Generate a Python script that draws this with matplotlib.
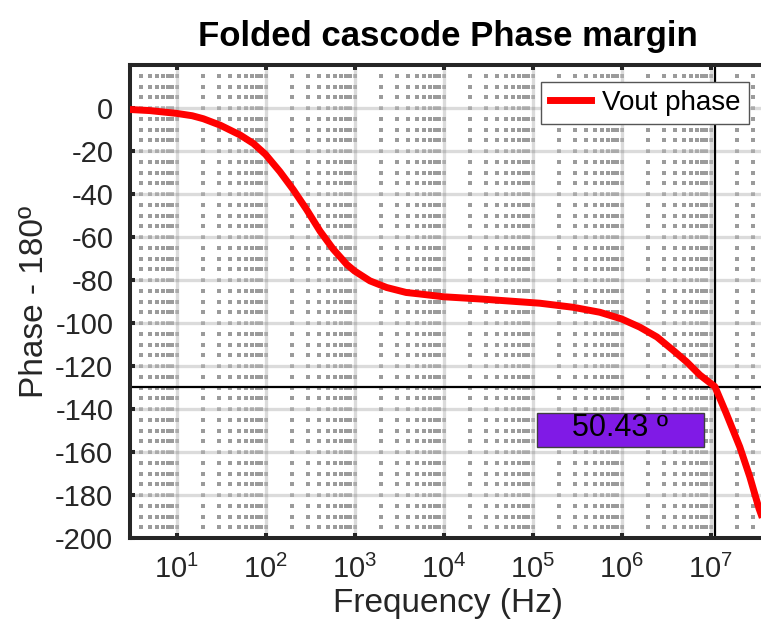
import numpy as np
import matplotlib
matplotlib.use('Agg')
import matplotlib.pyplot as plt
from matplotlib.patches import Rectangle

plt.rcParams['font.family'] = ['Liberation Sans', 'DejaVu Sans']
plt.rcParams['axes.unicode_minus'] = False

# phase curve (Hz, degrees)
freq = [3, 5, 10, 15, 20, 31, 52, 73, 100, 145, 205, 290, 410, 577, 815,
        1000, 1490, 2300, 3800, 5400, 1e4, 2.75e4, 1.21e5, 2.87e5, 5.7e5,
        1e6, 1.6e6, 2.5e6, 3.8e6, 5.4e6, 7.6e6, 1.12e7, 1.5e7, 2.13e7,
        2.76e7, 3.5e7, 3.7e7]
phase = [-0.7, -1.2, -2.5, -3.6, -5.0, -8.0, -12.6, -16.5, -21.6, -29.6, -38.0, -47.3,
         -57.3, -65.7, -72.7, -75.8, -80.4, -83.5, -85.8, -86.5, -87.8, -88.9,
         -90.8, -92.7, -95.0, -98.1, -101.9, -106.5, -112.7, -118.1, -124.2,
         -129.6, -142.0, -157.6, -171.5, -186.2, -189.0]

f_unity = 1.12e7          # unity-gain crossover
phase_at_unity = -129.57
pm_text = '50.43 º'
pm_box_x = (1.12e5, 8.4e6)
pm_box_y = (-157.9, -141.9)

x_ticks = [1e1, 1e2, 1e3, 1e4, 1e5, 1e6, 1e7]
y_ticks = list(range(-200, 1, 20))

XLIM = (3, 4.2e7)
YLIM = (-200, 20)
INK = '#262626'

fig = plt.figure(figsize=(7.61, 6.34), dpi=100)
ax = fig.add_axes([130 / 761, 1 - 538 / 634, 636 / 761, 473 / 634])
ax.set_xscale('log')
ax.set_xlim(*XLIM)
ax.set_ylim(*YLIM)
ax.set_xticks(x_ticks)
ax.set_yticks(y_ticks)
ax.xaxis.set_minor_locator(plt.NullLocator())

# major grid
ax.grid(which='major', color='black', alpha=0.14, lw=2.4)
ax.set_axisbelow(True)

# MATLAB-style dotted minor grid: dots where minor lines cross
xminor = [k * 10 ** d for d in range(0, 8) for k in range(2, 10)
          if XLIM[0] < k * 10 ** d < XLIM[1]]
xall = sorted(xminor + x_ticks)
yall = list(range(-195, 20, 5))
yminor = [v for v in yall if v % 20 != 0]
gx1, gy1 = np.meshgrid(xminor, yall)
gx2, gy2 = np.meshgrid(xall, yminor)
ax.plot(np.concatenate([gx1.ravel(), gx2.ravel()]),
        np.concatenate([gy1.ravel(), gy2.ravel()]),
        ls='none', marker='s', ms=2.3, mew=0, color='black', alpha=0.22, zorder=0.5)

# crossover guides
ax.axhline(phase_at_unity, color='black', lw=1.6, zorder=2)
ax.axvline(f_unity, color='black', lw=1.6, zorder=2)

ax.plot(freq, phase, color='red', lw=5, solid_joinstyle='round', zorder=3,
        label='Vout phase')

# phase margin label
ax.add_patch(Rectangle((pm_box_x[0], pm_box_y[0]), pm_box_x[1] - pm_box_x[0],
                       pm_box_y[1] - pm_box_y[0], facecolor=(0.5, 0.1, 0.9),
                       edgecolor='#404040', lw=1, zorder=4))
ax.text(np.sqrt(pm_box_x[0] * pm_box_x[1]), np.mean(pm_box_y) + 1.0, pm_text,
        ha='center', va='center', fontsize=22, color='black', zorder=5)

for s in ax.spines.values():
    s.set_linewidth(2.9)
    s.set_color(INK)
ax.tick_params(which='major', direction='in', length=3.6, width=2.9, color=INK,
               top=True, right=True, labelsize=21, labelcolor=INK)
ax.tick_params(axis='x', which='major', pad=12)
ax.tick_params(axis='y', which='major', pad=12)

ax.set_xlabel('Frequency (Hz)', fontsize=24, color=INK, labelpad=3)
ax.set_ylabel('Phase - 180º', fontsize=24, color=INK, labelpad=4)
ax.set_title('Folded cascode Phase margin', fontsize=25, fontweight='bold',
             color='black', pad=14)

leg = ax.legend(loc='upper right', fontsize=20, frameon=True, fancybox=False,
                framealpha=1, edgecolor='#555555', handlelength=1.5,
                handletextpad=0.4, borderpad=0.3, borderaxespad=0.6)
leg.get_frame().set_linewidth(1.0)

fig.savefig('out.png', dpi=100)
